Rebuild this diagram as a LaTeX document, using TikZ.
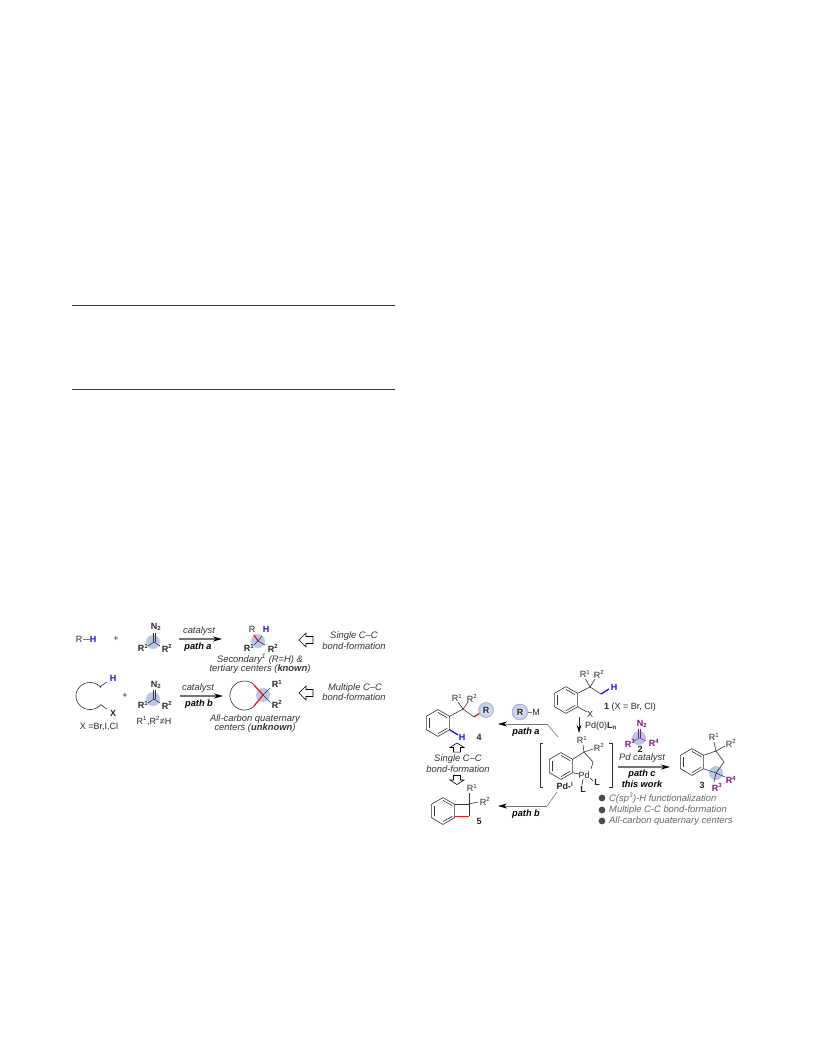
\documentclass[tikz,border=0pt]{standalone}
\usepackage{fontspec}
\setmainfont{Liberation Sans}
\usetikzlibrary{arrows.meta}
\definecolor{bondgray}{gray}{0.2}
\definecolor{linegray}{gray}{0.45}
\definecolor{hiblue}{RGB}{186,199,231}
\definecolor{hblue}{RGB}{20,20,240}
\definecolor{subpurple}{RGB}{130,20,130}
\definecolor{bondred}{RGB}{235,25,35}
\newcommand{\tsup}[1]{\textsuperscript{#1}}
\tikzset{
   label/.style={inner sep=0pt, text=black!85, font=\fontsize{9}{10.5}\selectfont},
   boldlabel/.style={label, font=\fontsize{9}{10.5}\selectfont\bfseries},
   note/.style={label, text=black!80, font=\fontsize{9.4}{11}\selectfont\itshape},
   rxnbold/.style={label, text=black, font=\fontsize{9.2}{11}\selectfont\bfseries\itshape},
   purplelabel/.style={boldlabel, text=subpurple},
   bullettext/.style={label, anchor=west, text=black!60, font=\fontsize{9.4}{11}\selectfont\itshape},
   bond/.style={draw=bondgray, line width=0.6pt},
   redbond/.style={draw=bondred, line width=1.3pt},
   bluebond/.style={draw=hblue, line width=1.3pt},
   halo/.style={fill=hiblue},
   softhalo/.style={inner color=hiblue!25, outer color=hiblue},
   softedge/.style={draw=hiblue!80!black, line width=0.4pt},
   rxnarrow/.style={draw=linegray, line width=1.1pt, -{Stealth[black,length=9pt,width=5pt]}},
   tailline/.style={draw=linegray, line width=0.6pt},
   hollow/.pic={
      \draw[draw=black, fill=white, line width=0.6pt] (-7,0) -- (0,-7) -- (0,-3.5) -- (7,-3.5)
         -- (7,3.5) -- (0,3.5) -- (0,7) -- cycle;
   },
   benzene/.pic={
      \draw[bond] (90:13.4) -- (30:13.4) -- (-30:13.4) -- (-90:13.4) -- (-150:13.4) -- (150:13.4) -- cycle;
      \draw[bond] (30:10.6) -- (90:10.6);
      \draw[bond] (-30:10.6) -- (-90:10.6);
      \draw[bond] (150:10.6) -- (-150:10.6);
   },
}
\begin{document}
\begin{tikzpicture}[x=1pt,y=-1pt]
\useasboundingbox (0,0) rectangle (816,1056);
% rules
\draw[bond] (72,305) -- (395,305);
\draw[bond] (72,389) -- (395,389);

% top left scheme, first row
\node[label] (rh) at (79,639) {R};
\node[boldlabel, text=hblue] (hh) at (93,639) {H};
\draw[draw=hiblue!60!black, line width=0.6pt] (rh.east) ++(1,0) -- (hh.west);
\node[label] (plusa) at (116,639) {+};
\fill[halo] (153,642) circle (7);
\draw[bond] (153,642) -- (153,633);
\draw[bond] (155,642) -- (155,633);
\draw[bond] (154,642) -- (148,646);
\draw[bond] (154,642) -- (160,646);
\node[boldlabel] (ntwoa) at (156,627) {N\textsubscript{2}};
\node[boldlabel] (ronea) at (143,648) {R\tsup{1}};
\node[boldlabel] (rtwoa) at (167,648) {R\tsup{2}};
\coordinate (pathastart) at (179,639);
\coordinate (pathaend) at (222,639);
\draw[rxnarrow] (pathastart) -- (pathaend);
\node[note] (cata) at (199,631) {catalyst};
\node[rxnbold] (patha) at (198,647) {path a};
\fill[halo] (258,641) circle (7);
\draw[redbond] (254,635) -- (258,641);
\draw[bond] (258,641) -- (262,636);
\draw[bond] (258,641) -- (254,645);
\draw[bond] (258,641) -- (265,645);
\node[label] (rprod) at (252,629) {R};
\node[boldlabel, text=hblue] (hprod) at (266,629) {H};
\node[boldlabel] (roneb) at (249,648) {R\tsup{1}};
\node[boldlabel] (rtwob) at (273,648) {R\tsup{2}};
\node[note] (seca) at (260,659) {Secondary\tsup{1} (R=H) \&};
\node[note] (secb) at (260,669) {tertiary centers (\textbf{known})};
\pic at (306,640) {hollow};
\node[note] (singlea) at (354,636) {Single C--C};
\node[note] (bonda) at (354,646) {bond-formation};

% top left scheme, second row
\draw[bond] (107,682) -- (101,686)
   -- plot[domain=40:320, samples=40] ({90+14*cos(\x)},{696-13.5*sin(\x)}) -- (107,709);
\node[boldlabel, text=hblue] (hchain) at (113,678) {H};
\node[boldlabel] (xchain) at (113,713) {X};
\node[label] (xlist) at (99,727) {X =Br,I,Cl};
\node[label] (plusb) at (125,696) {+};
\fill[halo] (153,699) circle (7);
\draw[bond] (153,699) -- (153,690);
\draw[bond] (155,699) -- (155,690);
\draw[bond] (154,699) -- (148,703);
\draw[bond] (154,699) -- (160,703);
\node[boldlabel] (ntwob) at (156,685) {N\textsubscript{2}};
\node[boldlabel] (ronec) at (143,705) {R\tsup{1}};
\node[boldlabel] (rtwoc) at (167,705) {R\tsup{2}};
\node[label] (rneq) at (154,721) {R\tsup{1},R\tsup{2}≠H};
\coordinate (pathbstart) at (180,696);
\coordinate (pathbend) at (223,696);
\draw[rxnarrow] (pathbstart) -- (pathbend);
\node[note] (catb) at (198,688) {catalyst};
\node[rxnbold] (pathb) at (199,704) {path b};
\fill[halo] (263,695) circle (7);
\draw[bond] plot[domain=48:312, samples=40] ({244.5+14.5*cos(\x)},{695.5-14.5*sin(\x)});
\draw[redbond] (254,685) -- (263,695) -- (254,706);
\draw[bond] (263,695) -- (270,688);
\draw[bond] (263,695) -- (270,702);
\node[boldlabel] (roned) at (277,684) {R\tsup{1}};
\node[boldlabel] (rtwod) at (277,704) {R\tsup{2}};
\node[note] (allc) at (255,719) {All-carbon quaternary};
\node[note] (cent) at (255,728) {centers (\textbf{unknown})};
\pic at (306,693) {hollow};
\node[note] (multia) at (355,688) {Multiple C--C};
\node[note] (bondb) at (354,697) {bond-formation};

% right scheme, substrate 1
\pic at (566,700) {benzene};
\draw[bond] (577.6,693.3) -- (590,687) -- (601,694);
\draw[bond] (590,687) -- (585.5,679);
\draw[bond] (590,687) -- (595,679);
\draw[bluebond] (601,694) -- (609,689);
\draw[bond] (577.6,706.7) -- (587,712);
\node[boldlabel, text=hblue] (hsub) at (614,687) {H};
\node[label] (rones) at (585,674) {R\tsup{1}};
\node[label] (rtwos) at (599,674) {R\tsup{2}};
\node[label] (xsub) at (590,714) {X};
\node[label] (subone) at (630,707) {\textbf{1} (X = Br, Cl)};
\coordinate (downstart) at (579,717);
\coordinate (downend) at (579,733);
\draw[draw=bondgray, line width=0.6pt, -{Stealth[black,length=8pt,width=4.5pt]}] (downstart) -- (downend);
\node[label, anchor=west] (pdzero) at (585,726) {Pd(0)\textbf{L\textsubscript{n}}};

% palladacycle
\draw[bond] (543,743) -- (540,743) -- (540,787) -- (543,787);
\draw[bond] (609,743) -- (612,743) -- (612,787) -- (609,787);
\pic at (561,766) {benzene};
\draw[bond] (572.6,759.3) -- (584,752) -- (593,762) -- (591,769);
\draw[bond] (572.6,772.7) -- (579,774);
\draw[bond] (584,752) -- (583,745);
\draw[bond] (584,752) -- (593,749);
\draw[bond] (590,778) -- (593,781);
\draw[bond] (583,779) -- (582,785);
\node[label] (rcyc) at (582,740) {R\tsup{1}};
\node[label] (rtcyc) at (599,747) {R\tsup{2}};
\node[label] (pdcyc) at (584,775) {Pd};
\node[boldlabel] (lone) at (597,782) {L};
\node[boldlabel] (ltwo) at (583,789) {L};
\node[boldlabel] (pdone) at (565,786) {Pd-\tsup{I}};

% path a to 4
\coordinate (tailastart) at (558,737);
\coordinate (tailacorner) at (547,724);
\coordinate (tailaend) at (498,724);
\draw[tailline] (tailastart) -- (tailacorner);
\draw[rxnarrow, line width=0.6pt] (tailacorner) -- (tailaend);
\node[rxnbold] (pathaa) at (526,732) {path a};
\shade[softhalo] (520,712) circle (8);
\draw[softedge] (520,712) circle (8);
\node[boldlabel] (rm) at (520,712) {R};
\node[label] (mm) at (536,712) {M};
\draw[draw=hiblue!60!black, line width=0.6pt] (528,712) -- (mm.west);

% product 4
\pic at (438,723) {benzene};
\draw[bond] (449.6,716.3) -- (463,709) -- (474,717);
\draw[bond] (463,709) -- (458,702);
\draw[bond] (463,709) -- (468,702);
\draw[redbond] (474,717) -- (480,713);
\draw[bluebond] (449.6,729.7) -- (458,735);
\shade[softhalo] (486,710) circle (7.5);
\draw[softedge] (486,710) circle (7.5);
\node[boldlabel] (rfour) at (486,710) {R};
\node[label] (ronef) at (457,698) {R\tsup{1}};
\node[label] (rtwof) at (472,698) {R\tsup{2}};
\node[boldlabel, text=hblue] (hfour) at (462,737) {H};
\node[boldlabel] (numfour) at (479,737) {4};
\pic[rotate=-90, xscale=0.65] at (457,747.5) {hollow};
\node[note] (singleb) at (458,759) {Single C--C};
\node[note] (bondc) at (458,769) {bond-formation};
\pic[rotate=90, xscale=0.65] at (457,780) {hollow};

% path b to 5
\coordinate (tailbstart) at (557,792);
\coordinate (tailbcorner) at (547,806);
\coordinate (tailbend) at (498,806);
\draw[tailline] (tailbstart) -- (tailbcorner);
\draw[rxnarrow, line width=0.6pt] (tailbcorner) -- (tailbend);
\node[rxnbold] (pathbb) at (526,814) {path b};
\pic at (443,811) {benzene};
\draw[bond] (455,804) -- (469,804) -- (469,816);
\draw[redbond, line width=0.9pt] (455,816) -- (469,816);
\draw[bond] (469,804) -- (469,793);
\draw[bond] (469,804) -- (478,802);
\node[label] (ronefv) at (472,788) {R\tsup{1}};
\node[label] (rtwofv) at (485,801) {R\tsup{2}};
\node[boldlabel] (numfive) at (479,821) {5};

% path c to 3
\fill[halo] (639,738) circle (7);
\draw[draw=subpurple, line width=0.5pt] (638.5,738) -- (638.5,729);
\draw[draw=subpurple, line width=0.5pt] (640.5,738) -- (640.5,729);
\draw[draw=subpurple, line width=0.5pt] (639.5,738) -- (634,741);
\draw[draw=subpurple, line width=0.5pt] (639.5,738) -- (646,741);
\node[purplelabel] (ntwoc) at (642,724) {N\textsubscript{2}};
\node[purplelabel] (rthree) at (630,743) {R\tsup{3}};
\node[purplelabel] (rfoura) at (654,743) {R\tsup{4}};
\node[boldlabel] (numtwo) at (640,749) {2};
\node[note] (pdcat) at (642,758) {Pd catalyst};
\coordinate (pathcstart) at (618,767);
\coordinate (pathcend) at (670,767);
\draw[rxnarrow] (pathcstart) -- (pathcend);
\node[rxnbold] (pathc) at (642,774) {path c};
\node[rxnbold] (thiswork) at (642,784) {this work};

% product 3
\fill[halo] (716,773) circle (7);
\pic at (692,762) {benzene};
\draw[bond] (703.6,755.3) -- (716,751) -- (724,762) -- (716,773) -- (703.6,768.7);
\draw[bond] (716,751) -- (714,742);
\draw[bond] (716,751) -- (725,746);
\draw[bond] (716,773) -- (714,782);
\draw[bond] (716,773) -- (725,777);
\node[label] (ronethr) at (714,737) {R\tsup{1}};
\node[label] (rtwothr) at (731,743) {R\tsup{2}};
\node[purplelabel] (rthreeb) at (717,787) {R\tsup{3}};
\node[purplelabel] (rfourb) at (731,780) {R\tsup{4}};
\node[boldlabel] (numthree) at (702,785) {3};

% bullet points
\fill[black!70] (602,798) circle (3.4);
\fill[black!70] (602,810) circle (3.4);
\fill[black!70] (602,821) circle (3.4);
\node[bullettext] (bullone) at (609,798) {C(sp\tsup{3})-H functionalization};
\node[bullettext] (bulltwo) at (609,810) {Multiple C-C bond-formation};
\node[bullettext] (bullthree) at (609,821) {All-carbon quaternary centers};
\end{tikzpicture}
\end{document}
